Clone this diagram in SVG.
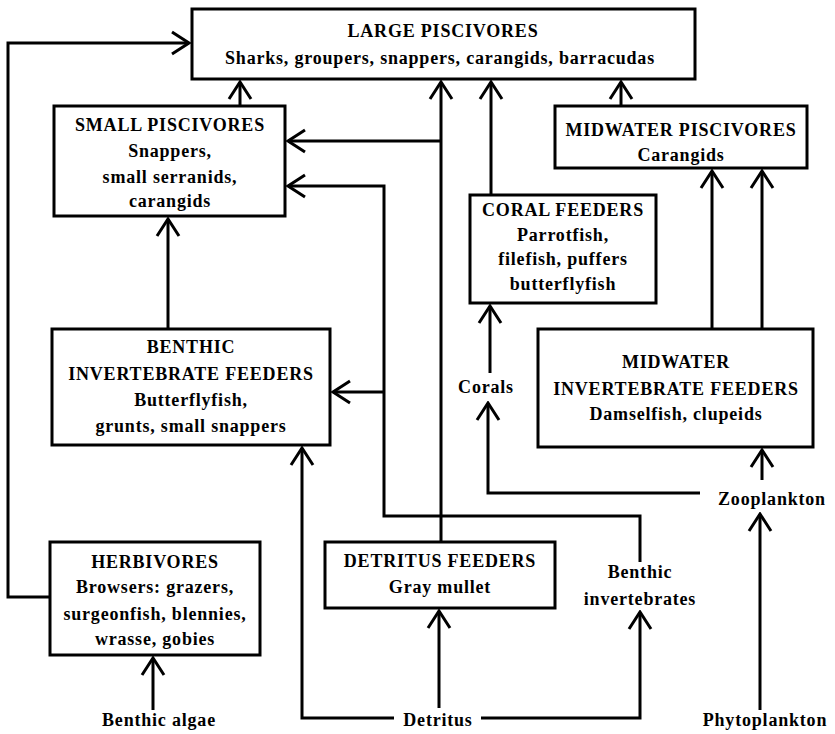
<svg xmlns="http://www.w3.org/2000/svg" width="835" height="734" viewBox="0 0 835 734">
<style>
  .box { fill: #fff; stroke: #000; stroke-width: 3; }
  .t { font-family: "Liberation Serif", "Times New Roman", serif; font-weight: bold; font-size: 18px; letter-spacing: 0.8px; text-anchor: middle; fill: #000; }
  .c { fill: none; stroke: #000; stroke-width: 3; marker-end: url(#arr); }
</style>
<defs>
  <marker id="arr" markerUnits="userSpaceOnUse" viewBox="-20 -13 22 26" markerWidth="22" markerHeight="26" refX="0" refY="0" orient="auto">
    <path d="M-17,-11 L0,0 L-17,11" fill="none" stroke="#000" stroke-width="3" stroke-linejoin="miter"/>
  </marker>
</defs>
<rect width="835" height="734" fill="#fff"/>

<g id="connectors">
  <path class="c" d="M50,597 H8 V43 H189"/>
  <path class="c" d="M240,106 V82"/>
  <path class="c" d="M441,542 V82"/>
  <path class="c" d="M441,141 H288"/>
  <path class="c" d="M640,562 V516 H384 V186 H288"/>
  <path class="c" d="M384,392 H333"/>
  <path class="c" d="M491,195 V82"/>
  <path class="c" d="M621,106 V82"/>
  <path class="c" d="M712,329 V171"/>
  <path class="c" d="M762,329 V171"/>
  <path class="c" d="M168,329 V219"/>
  <path class="c" d="M490,373 V306"/>
  <path class="c" d="M700,493 H488 V403"/>
  <path class="c" d="M762,480 V450"/>
  <path class="c" d="M760,710 V514"/>
  <path class="c" d="M153,710 V658"/>
  <path class="c" d="M394,718 H302 V448"/>
  <path class="c" d="M439,708 V611"/>
  <path class="c" d="M481,718 H640 V612"/>
</g>

<g id="large-piscivores">
  <rect class="box" x="192" y="9" width="503" height="70"/>
  <text class="t" x="443" y="37">LARGE PISCIVORES</text>
  <text class="t" x="440" y="64">Sharks, groupers, snappers, carangids, barracudas</text>
</g>
<g id="small-piscivores">
  <rect class="box" x="54" y="106" width="231" height="110"/>
  <text class="t" x="170" y="131">SMALL PISCIVORES</text>
  <text class="t" x="170" y="157">Snappers,</text>
  <text class="t" x="170" y="183">small serranids,</text>
  <text class="t" x="170" y="207">carangids</text>
</g>
<g id="midwater-piscivores">
  <rect class="box" x="555" y="106" width="252" height="62"/>
  <text class="t" x="681" y="136">MIDWATER PISCIVORES</text>
  <text class="t" x="681" y="161">Carangids</text>
</g>
<g id="coral-feeders">
  <rect class="box" x="470" y="195" width="186" height="108"/>
  <text class="t" x="563" y="216">CORAL FEEDERS</text>
  <text class="t" x="563" y="241">Parrotfish,</text>
  <text class="t" x="563" y="265">filefish, puffers</text>
  <text class="t" x="563" y="290">butterflyfish</text>
</g>
<g id="benthic-invertebrate-feeders">
  <rect class="box" x="52" y="329" width="278" height="116"/>
  <text class="t" x="191" y="353">BENTHIC</text>
  <text class="t" x="191" y="380">INVERTEBRATE FEEDERS</text>
  <text class="t" x="191" y="406">Butterflyfish,</text>
  <text class="t" x="191" y="432">grunts, small snappers</text>
</g>
<g id="midwater-invertebrate-feeders">
  <rect class="box" x="538" y="329" width="275" height="118"/>
  <text class="t" x="676" y="368">MIDWATER</text>
  <text class="t" x="676" y="395">INVERTEBRATE FEEDERS</text>
  <text class="t" x="676" y="420">Damselfish, clupeids</text>
</g>
<g id="herbivores">
  <rect class="box" x="50" y="542" width="210" height="113"/>
  <text class="t" x="155" y="568">HERBIVORES</text>
  <text class="t" x="155" y="593">Browsers: grazers,</text>
  <text class="t" x="155" y="620">surgeonfish, blennies,</text>
  <text class="t" x="155" y="645">wrasse, gobies</text>
</g>
<g id="detritus-feeders">
  <rect class="box" x="325" y="542" width="230" height="66"/>
  <text class="t" x="440" y="567">DETRITUS FEEDERS</text>
  <text class="t" x="440" y="593">Gray mullet</text>
</g>
<g id="corals"><text class="t" x="486" y="393">Corals</text></g>
<g id="zooplankton"><text class="t" x="772" y="505">Zooplankton</text></g>
<g id="phytoplankton"><text class="t" x="765" y="726">Phytoplankton</text></g>
<g id="benthic-algae"><text class="t" x="159" y="726">Benthic algae</text></g>
<g id="detritus"><text class="t" x="438" y="726">Detritus</text></g>
<g id="benthic-invertebrates">
  <text class="t" x="640" y="578">Benthic</text>
  <text class="t" x="640" y="605">invertebrates</text>
</g>
</svg>
